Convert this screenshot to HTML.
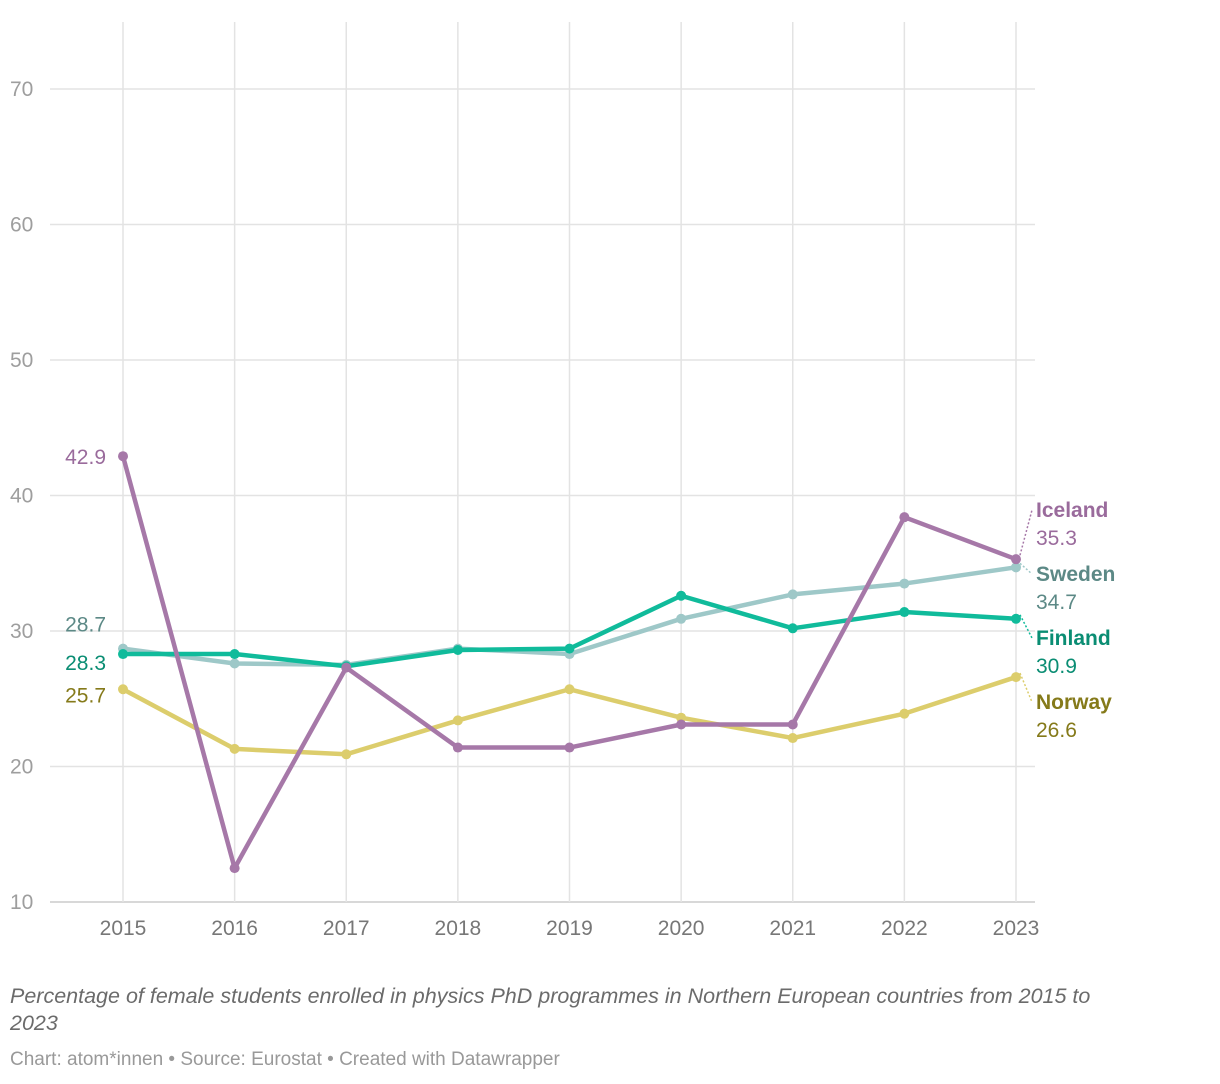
<!DOCTYPE html>
<html><head><meta charset="utf-8">
<style>
html,body{margin:0;padding:0;background:#fff;width:1220px;height:1084px;overflow:hidden;font-family:"Liberation Sans",sans-serif}
svg text{font-family:"Liberation Sans",sans-serif}
.cap{position:absolute;left:10px;top:983px;width:1200px;font-style:italic;font-size:21.5px;color:#6b6b6b;line-height:27px}
.src{position:absolute;left:10px;top:1049px;font-size:19px;color:#999}
</style></head><body>
<svg id="chart" width="1220" height="980" style="position:absolute;left:0;top:0"></svg>
<div class="cap">Percentage of female students enrolled in physics PhD programmes in Northern European countries from 2015 to<br>2023</div>
<div class="src">Chart: atom*innen • Source: Eurostat • Created with Datawrapper</div>
<script>
const years=[2015,2016,2017,2018,2019,2020,2021,2022,2023];
const yTicks=[10,20,30,40,50,60,70];
const iceland=[42.9,12.5,27.3,21.4,21.4,23.1,23.1,38.4,35.3];
const sweden=[28.7,27.6,27.5,28.7,28.3,30.9,32.7,33.5,34.7];
const finland=[28.3,28.3,27.4,28.6,28.7,32.6,30.2,31.4,30.9];
const norway=[25.7,21.3,20.9,23.4,25.7,23.6,22.1,23.9,26.6];
const seriesNames=["Sweden","Norway","Finland","Iceland"];

const svg=document.getElementById('chart');
const NS='http://www.w3.org/2000/svg';
const x=i=>123+i*(1016-123)/(years.length-1);
const y=v=>902-(v-10)*(902-89)/60;
function mk(t,a){const e=document.createElementNS(NS,t);for(const k in a)e.setAttribute(k,a[k]);svg.appendChild(e);return e;}
yTicks.forEach(v=>{
 const l=mk('line',{x1:50,x2:1035,y1:y(v),y2:y(v),stroke:v===10?'#ccc':'#e3e3e3','stroke-width':1.5});
 
 
 const t=mk('text',{x:10,y:y(v)+7,'font-size':21,fill:'#9e9e9e'});t.textContent=v;
 
 
});
years.forEach((yr,i)=>{
 const l=mk('line',{x1:x(i),x2:x(i),y1:22,y2:902,stroke:'#e3e3e3','stroke-width':1.5});
 
 
 const t=mk('text',{x:x(i),y:935,'font-size':21,fill:'#777','text-anchor':'middle'});t.textContent=yr;
 
 
});
const conf={Sweden:[sweden,'#9ec8c8','#5c8986'],Norway:[norway,'#dccd6c','#857a1a'],Finland:[finland,'#10bb9b','#0a8d73'],Iceland:[iceland,'#a678a8','#9a6b9c']};
seriesNames.forEach(n=>{
 const [d,c]=conf[n];
 const p=mk('polyline',{points:d.map((v,i)=>x(i)+','+y(v)).join(' '),fill:'none',stroke:c,'stroke-width':4.5,'stroke-linejoin':'round'});
 
 
 d.forEach((v,i)=>{const ci=mk('circle',{cx:x(i),cy:y(v),r:5,fill:c});
  
  });
});
[[iceland,'Iceland',0],[sweden,'Sweden',-25],[finland,'Finland',8],[norway,'Norway',5]].forEach(([d,n,off])=>{
 const t=mk('text',{x:106,y:y(d[0])+8+off,'font-size':21,fill:conf[n][2],'text-anchor':'end'});t.textContent=d[0].toFixed(1);
 
 
});
const endOff={Iceland:510,Sweden:574,Finland:638,Norway:702};
Object.keys(endOff).forEach(n=>{
 const d=conf[n][0],ly=endOff[n];
 const ln=mk('line',{x1:1020,y1:y(d[8])-4,x2:1032,y2:ly,stroke:conf[n][1],'stroke-width':1.5,'stroke-dasharray':'2,2'});
 
 
 const t=mk('text',{x:1036,y:ly+7,'font-size':21,'font-weight':'bold',fill:conf[n][2]});t.textContent=n;
 
 
 const v=mk('text',{x:1036,y:ly+35,'font-size':21,fill:conf[n][2]});v.textContent=d[8].toFixed(1);
 
 
});
</script>
</body></html>
